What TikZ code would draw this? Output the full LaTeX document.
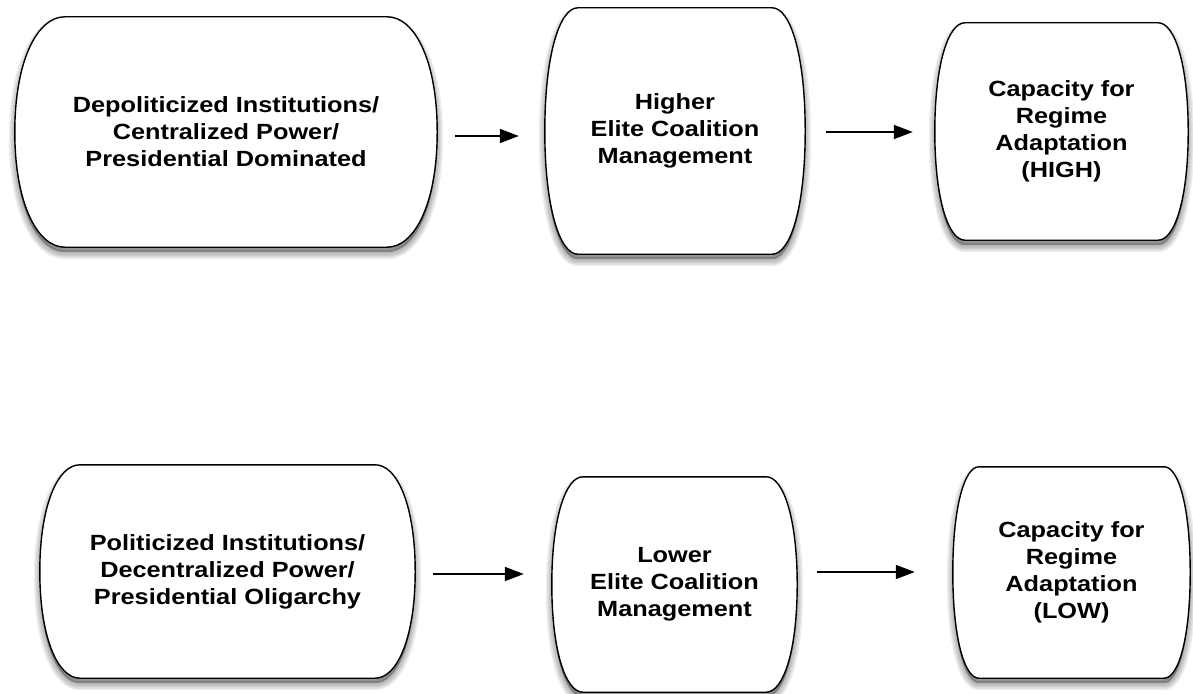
\documentclass[tikz,border=0pt]{standalone}
\usepackage{fontspec}
\newfontfamily\boxfont[FakeStretch=1.15]{Liberation Sans}
\usetikzlibrary{arrows.meta,calc}
\pgfdeclarelayer{background}
\pgfsetlayers{background,main}

% Outline of a box with flat top/bottom and bulging sides.
% #1 = node name, #2 = horizontal inset of the flat edges
\newcommand\bulgepath[2]{%
  ([xshift=#2]#1.north west) -- ([xshift=-#2]#1.north east)
  .. controls ([xshift=-0.45*#2]#1.north east) and ($(#1.north east)!0.38!(#1.east)$) .. (#1.east)
  .. controls ($(#1.south east)!0.38!(#1.east)$) and ([xshift=-0.45*#2]#1.south east) .. ([xshift=-#2]#1.south east)
  -- ([xshift=#2]#1.south west)
  .. controls ([xshift=0.45*#2]#1.south west) and ($(#1.south west)!0.38!(#1.west)$) .. (#1.west)
  .. controls ($(#1.north west)!0.38!(#1.west)$) and ([xshift=0.45*#2]#1.north west) .. ([xshift=#2]#1.north west)
  -- cycle}

% Soft drop shadow plus white box with black outline
\newcommand\bulgebox[2]{%
  \fill[black, opacity=0.35, transform canvas={yshift=-5pt}] \bulgepath{#1}{#2};
  \foreach \w in {3,6,9,12}{
    \draw[shade ring=\w] \bulgepath{#1}{#2};
  }
  \draw[outline] \bulgepath{#1}{#2};
}

\tikzset{
  boxtext/.style={font=\boxfont\bfseries\fontsize{22}{27}\selectfont,
    align=center, inner sep=0pt},
  outline/.style={draw=black, line width=1.4pt, fill=white},
  shade ring/.style={draw=black, draw opacity=0.07, line width=#1,
    transform canvas={yshift=-6pt}},
  link/.style={line width=1.8pt, -{Triangle[length=19pt,width=14pt]}},
}

\begin{document}
\begin{tikzpicture}[x=1pt, y=-1pt]
  \useasboundingbox (0,0) rectangle (1193,693);

  % upper chain
  \node[boxtext, minimum width=422pt, minimum height=230pt] (dep) at (226,132)
    {Depoliticized Institutions/\\Centralized Power/\\Presidential Dominated};
  \node[boxtext, minimum width=260pt, minimum height=246pt] (high) at (675,131)
    {Higher\\Elite Coalition\\Management};
  \node[boxtext, minimum width=253pt, minimum height=217pt] (caphi) at (1061.5,131.5)
    {Capacity for\\Regime\\Adaptation\\(HIGH)};

  % lower chain
  \node[boxtext, minimum width=375pt, minimum height=213pt] (pol) at (227.5,571.5)
    {Politicized Institutions/\\Decentralized Power/\\Presidential Oligarchy};
  \node[boxtext, minimum width=245pt, minimum height=215pt] (low) at (674.5,584.5)
    {Lower\\Elite Coalition\\Management};
  \node[boxtext, minimum width=237pt, minimum height=211pt] (caplo) at (1071.5,572.5)
    {Capacity for\\Regime\\Adaptation\\(LOW)};

  \begin{pgfonlayer}{background}
    \fill[white] (0,0) rectangle (1193,693);
    \bulgebox{dep}{50}
    \bulgebox{high}{33}
    \bulgebox{caphi}{30}
    \bulgebox{pol}{40}
    \bulgebox{low}{31}
    \bulgebox{caplo}{26}
  \end{pgfonlayer}

  % connectors
  \draw[link, shorten <=18pt, shorten >=26pt]
    ([yshift=-4pt]dep.east) -- ([yshift=-4pt]dep.east -| high.west);
  \draw[link, shorten <=21pt, shorten >=22pt]
    ([yshift=-1pt]high.east) -- ([yshift=-1pt]high.east -| caphi.west);
  \draw[link, shorten <=18pt, shorten >=28pt]
    ([yshift=-2.5pt]pol.east) -- ([yshift=-2.5pt]pol.east -| low.west);
  \draw[link, shorten <=20pt, shorten >=38pt]
    ([yshift=12.5pt]low.east) -- ([yshift=12.5pt]low.east -| caplo.west);
\end{tikzpicture}
\end{document}
